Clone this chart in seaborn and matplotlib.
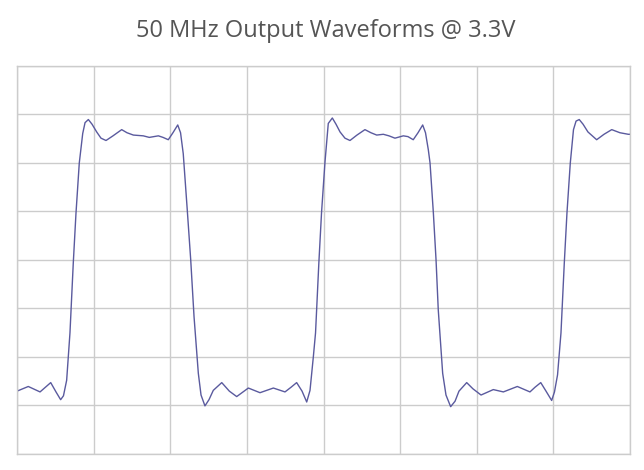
import matplotlib
matplotlib.use("Agg")
import matplotlib.pyplot as plt
import numpy as np
import pandas as pd
import seaborn as sns

title = "50 MHz Output Waveforms @ 3.3V"

time_ns = [0.00, 0.92, 1.88, 2.75, 3.18, 3.56, 3.79, 4.05, 4.32, 4.59,
           4.81, 5.08, 5.36, 5.55, 5.82, 6.12, 6.50, 6.85, 7.26, 7.83,
           8.54, 8.97, 9.49, 10.30, 10.79, 11.53, 11.91, 12.34, 12.72, 13.11,
           13.34, 13.56, 13.89, 14.17, 14.44, 14.79, 15.01, 15.33, 15.66, 16.01,
           16.70, 17.32, 17.92, 18.87, 19.82, 20.91, 21.86, 22.35, 22.81, 23.25,
           23.63, 23.90, 24.17, 24.35, 24.62, 24.84, 25.12, 25.39, 25.72, 26.02,
           26.35, 26.75, 27.16, 27.73, 28.38, 28.87, 29.34, 29.88, 30.34, 30.83,
           31.51, 31.89, 32.32, 32.71, 33.09, 33.32, 33.55, 33.69, 33.96, 34.18,
           34.36, 34.72, 34.99, 35.37, 35.73, 36.05, 36.68, 37.19, 37.85, 38.85,
           39.67, 40.81, 41.84, 42.25, 42.72, 43.15, 43.61, 43.84, 44.09, 44.37,
           44.64, 44.86, 45.13, 45.39, 45.60, 45.86, 46.17, 46.57, 47.28, 47.88,
           48.51, 49.18, 49.86, 50.00]

volts = [0.01, 0.07, 0.00, 0.12, 0.00, -0.10, -0.05, 0.15, 0.76, 1.66,
         2.30, 2.95, 3.33, 3.47, 3.51, 3.45, 3.35, 3.27, 3.24, 3.30,
         3.38, 3.34, 3.31, 3.30, 3.28, 3.30, 3.28, 3.25, 3.34, 3.44,
         3.34, 3.07, 2.34, 1.70, 0.97, 0.24, -0.04, -0.18, -0.10, 0.02,
         0.12, 0.01, -0.06, 0.05, -0.01, 0.05, 0.00, 0.06, 0.12, 0.01,
         -0.13, 0.02, 0.45, 0.76, 1.66, 2.31, 2.96, 3.46, 3.53, 3.45,
         3.35, 3.27, 3.24, 3.31, 3.38, 3.34, 3.31, 3.32, 3.30, 3.27,
         3.30, 3.29, 3.25, 3.34, 3.44, 3.34, 3.12, 2.95, 2.31, 1.70,
         1.06, 0.24, -0.04, -0.19, -0.12, 0.01, 0.12, 0.04, -0.04, 0.03,
         0.00, 0.07, 0.00, 0.06, 0.12, 0.01, -0.11, 0.00, 0.22, 0.76,
         1.66, 2.31, 2.95, 3.38, 3.49, 3.51, 3.45, 3.35, 3.25, 3.32,
         3.38, 3.34, 3.32, 3.32]

df = pd.DataFrame({"time": time_ns, "volts": volts})

sns.set_theme(style="white")
plt.rcParams["font.family"] = ["Open Sans", "DejaVu Sans"]

fig = plt.figure(figsize=(6.44, 4.70), dpi=100)
ax = fig.add_axes([17 / 644, 16 / 470, 613 / 644, 388 / 470])

sns.lineplot(data=df, x="time", y="volts", ax=ax, estimator=None,
             color="#5a5a9e", linewidth=1.0)

ax.set_xlim(0, 50)
ax.set_ylim(-0.8, 4.2)
ax.set_xticks(np.linspace(0, 50, 9))
ax.set_yticks(np.linspace(-0.8, 4.2, 9))
ax.grid(True, color="#cccccc", linewidth=1.0)
ax.tick_params(length=0, labelbottom=False, labelleft=False)
ax.set_xlabel("")
ax.set_ylabel("")
for s in ax.spines.values():
    s.set_color("#cccccc")
    s.set_linewidth(1.0)

fig.text(325.5 / 644, 1 - 31 / 470, title, ha="center", va="center",
         fontsize=17, color="#555555")

fig.savefig("out.png", dpi=100)
